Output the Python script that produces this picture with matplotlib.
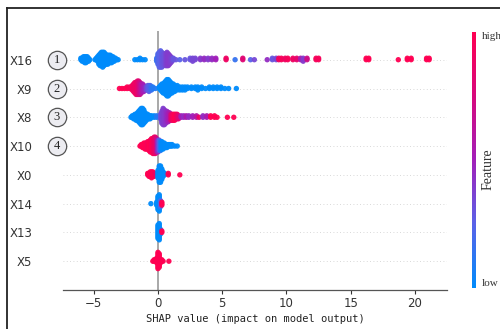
import numpy as np
import matplotlib
matplotlib.use("Agg")
import matplotlib.pyplot as plt
from matplotlib.colors import LinearSegmentedColormap
from matplotlib.lines import Line2D
import matplotlib.transforms as mtrans

# feature order (top -> bottom)
features = ["X16", "X9", "X8", "X10", "X0", "X14", "X13", "X5"]
ranks = ["1", "2", "3", "4"]

# each feature: shap value, number of samples at that value, feature value (0 low .. 1 high)
x16_x = [-6.0, -5.9, -5.8, -5.7, -5.6, -5.5, -5.4, -5.3,
         -4.9, -4.8, -4.7, -4.6, -4.5, -4.4, -4.3, -4.2, -4.1, -4.0, -3.9, -3.8, -3.7, -3.6, -3.5, -3.4, -3.3, -3.2, -3.1,
         -1.8, -1.6, -1.4, -1.2, -1.0,
         -0.1, 0.0, 0.1, 0.2, 0.3, 0.4, 0.5, 0.6, 0.7, 0.8, 0.9, 1.0, 1.1, 1.2, 1.4,
         1.7, 2.1, 2.5, 2.7, 2.9, 3.3, 3.6, 3.9, 4.2, 4.5, 5.3, 6.0, 6.6, 7.2, 7.5, 8.5, 8.9, 9.2,
         9.4, 9.6, 9.9, 10.1, 10.5, 10.8, 11.1, 11.3, 11.6, 12.3, 12.5, 16.2, 16.4, 18.7, 19.4, 19.7, 20.9, 21.1]
x16_n = [2, 3, 4, 5, 5, 4, 3, 1,
         1, 2, 4, 7, 9, 10, 11, 10, 8, 7, 7, 6, 6, 5, 4, 3, 2, 1, 1,
         1, 1, 2, 1, 1,
         3, 8, 11, 12, 11, 9, 8, 9, 10, 9, 7, 5, 3, 2, 1,
         1, 1, 2, 3, 2, 2, 2, 2, 2, 2, 2, 1, 2, 1, 1, 1, 2, 2,
         2, 2, 2, 2, 2, 2, 2, 3, 2, 2, 2, 2, 2, 1, 2, 2, 2, 2]
x16_c = [0, 0, 0, 0, 0, 0, 0, 0,
         0, 0, 0, 0, 0, 0, 0, 0, 0, 0, 0, 0, 0, 0, 0, 0, 0, 0, 0,
         0, 0, 0, 0, 0,
         0.15, 0.2, 0.25, 0.25, 0.28, 0.3, 0.32, 0.35, 0.38, 0.4, 0.4, 0.38, 0.35, 0.3, 0.3,
         0.25, 0.3, 0.3, 0.35, 0.35, 0.4, 0.45, 0.4, 0.45, 0.5, 0.9, 0.15, 0.8, 0.25, 0.35, 0.45, 0.3, 0.35,
         0.9, 0.95, 0.9, 0.95, 0.9, 0.85, 0.55, 0.4, 0.7, 0.95, 0.95, 1, 1, 1, 1, 1, 1, 1]

x9_x = [-3.0, -2.8, -2.6, -2.4, -2.2,
        -2.0, -1.9, -1.8, -1.7, -1.6, -1.5, -1.4, -1.3, -1.2, -1.1, -1.0,
        -0.9, -0.8, -0.7, -0.6, -0.5, -0.4, -0.2,
        0.1, 0.2, 0.3, 0.4, 0.5, 0.6, 0.7, 0.8, 0.9, 1.0, 1.1, 1.2, 1.3, 1.5, 1.7, 1.9, 2.1,
        2.3, 2.6, 2.9, 3.1, 3.4, 3.7, 4.0, 4.3, 4.6, 4.9, 5.2, 5.5, 6.1]
x9_n = [1, 1, 1, 2, 2,
        4, 6, 8, 9, 10, 10, 9, 7, 6, 5, 3,
        3, 4, 5, 4, 3, 2, 1,
        2, 4, 6, 7, 8, 10, 12, 12, 10, 8, 7, 6, 5, 4, 3, 3, 3,
        2, 2, 2, 3, 2, 1, 2, 2, 2, 2, 1, 1, 1]
x9_c = [1, 1, 1, 1, 0.95,
        0.95, 0.9, 0.9, 0.9, 0.85, 0.8, 0.7, 0.6, 0.55, 0.5, 0.45,
        0.35, 0.3, 0.25, 0.2, 0.15, 0.1, 0.1,
        0, 0, 0, 0, 0, 0, 0, 0, 0, 0, 0, 0, 0, 0, 0, 0, 0,
        0, 0, 0, 0, 0, 0, 0, 0, 0, 0, 0, 0, 0]

x8_x = [-2.1, -2.0, -1.9, -1.8, -1.7, -1.6, -1.5, -1.4, -1.3, -1.2, -1.1, -1.0, -0.9, -0.8, -0.7, -0.6, -0.5, -0.3, -0.1,
        0.2, 0.3, 0.4, 0.5, 0.6, 0.7, 0.8, 0.9, 1.0, 1.1, 1.2, 1.3, 1.4, 1.5, 1.6, 1.8, 2.0, 2.2, 2.4,
        2.7, 3.0, 3.2, 3.5, 3.8, 4.1, 4.4, 4.6, 5.4, 5.9]
x8_n = [1, 2, 3, 4, 5, 6, 8, 10, 12, 12, 10, 7, 5, 4, 3, 3, 2, 2, 2,
        4, 9, 12, 11, 9, 8, 7, 6, 5, 5, 5, 5, 4, 4, 3, 2, 2, 2, 2,
        2, 2, 1, 2, 2, 2, 2, 1, 1, 1]
x8_c = [0, 0, 0, 0, 0, 0, 0, 0, 0, 0, 0, 0, 0, 0, 0, 0, 0, 0, 0.1,
        0.3, 0.35, 0.38, 0.4, 0.42, 0.45, 0.5, 0.55, 0.7, 0.9, 0.95, 1, 1, 0.9, 0.8, 0.5, 0.45, 0.55, 0.45,
        0.5, 0.6, 0.9, 0.45, 0.55, 1, 1, 1, 1, 1]

x10_x = [-1.4, -1.3, -1.2, -1.1, -1.0, -0.9, -0.8, -0.7, -0.6, -0.5, -0.4, -0.3, -0.2, -0.1,
         0.0, 0.1, 0.2, 0.3, 0.4, 0.5, 0.6, 0.7, 0.8, 0.9, 1.0, 1.1, 1.3, 1.5]
x10_n = [1, 2, 3, 4, 5, 5, 6, 7, 9, 10, 11, 12, 12, 10,
         9, 8, 7, 6, 5, 4, 3, 3, 2, 2, 2, 2, 1, 1]
x10_c = [1, 1, 1, 1, 1, 1, 0.95, 1, 1, 0.95, 1, 0.9, 0.85, 0.7,
         0.45, 0.25, 0.1, 0, 0, 0, 0, 0, 0, 0, 0, 0, 0, 0]

x0_x = [-0.8, -0.7, -0.6, -0.5, -0.4, -0.3, -0.2, 0.0, 0.1, 0.2, 0.3, 0.4, 0.5, 0.8, 1.7]
x0_n = [2, 3, 4, 5, 4, 3, 2, 6, 12, 12, 8, 4, 2, 2, 1]
x0_c = [1, 1, 1, 1, 1, 1, 0.9, 0, 0, 0, 0, 0, 0, 1, 1]

x14_x = [-0.55, -0.1, 0.0, 0.1, 0.2, 0.3]
x14_n = [1, 3, 10, 12, 5, 3]
x14_c = [0, 0, 0, 0, 0.2, 1]

x13_x = [0.0, 0.1, 0.2, 0.3]
x13_n = [10, 12, 4, 2]
x13_c = [0, 0, 0, 1]

x5_x = [-0.4, -0.3, -0.2, -0.1, 0.0, 0.1, 0.2, 0.3, 0.4, 0.85]
x5_n = [1, 2, 2, 4, 12, 10, 3, 2, 1, 1]
x5_c = [1, 1, 1, 1, 1, 1, 1, 1, 1, 1]

rows = [(x16_x, x16_n, x16_c), (x9_x, x9_n, x9_c), (x8_x, x8_n, x8_c), (x10_x, x10_n, x10_c),
        (x0_x, x0_n, x0_c), (x14_x, x14_n, x14_c), (x13_x, x13_n, x13_c), (x5_x, x5_n, x5_c)]

cmap = LinearSegmentedColormap.from_list(
    "shap_rb", ["#008bfb", "#5a62e8", "#a21fb9", "#d7087c", "#ff0052"])


def swarm(ns, row_height=0.4):
    # stack samples sharing a value up/down around the row, shap style
    offs = []
    for n in ns:
        layer = np.arange(n)
        offs.extend(np.ceil(layer / 2) * ((layer % 2) * 2 - 1))
    offs = np.array(offs, dtype=float)
    return offs * 0.9 * (row_height / np.max(offs + 1))


fig = plt.figure(figsize=(5.0, 3.29), dpi=100)
ax = fig.add_axes([0.126, 0.1185, 0.768, 0.7875])

nrow = len(features)
for i, (xs, ns, cs) in enumerate(rows):
    pos = nrow - 1 - i
    ax.axhline(y=pos, color="#cccccc", lw=0.6, dashes=(1, 3), zorder=-1)
    vals = np.repeat(xs, ns)
    cols = np.repeat(cs, ns)
    ax.scatter(vals, pos + swarm(ns), c=cols, cmap=cmap, vmin=0, vmax=1,
               s=15, linewidth=0, alpha=0.95, zorder=3)

ax.axvline(x=0, color="#999999", lw=1.2, zorder=-1)

ax.set_xlim(-7.39, 22.49)
ax.set_ylim(-1, nrow)
ax.set_yticks(range(nrow))
ax.set_yticklabels(features[::-1], fontsize=8.5, color="#333333")
ax.tick_params(axis="y", length=0, pad=22)
ax.set_xticks([-5, 0, 5, 10, 15, 20])
ax.set_xticklabels(["\u22125", "0", "5", "10", "15", "20"])
ax.tick_params(axis="x", labelsize=8.5, colors="#333333", length=3, width=0.8, pad=2)
for s in ["top", "right", "left"]:
    ax.spines[s].set_visible(False)
ax.spines["bottom"].set_color("#555555")
ax.spines["bottom"].set_linewidth(0.9)
ax.set_xlabel("SHAP value (impact on model output)", family="DejaVu Sans Mono",
              fontsize=7.5, color="#222222", labelpad=3)

# circled rank numbers left of the top four features
tr = mtrans.blended_transform_factory(fig.transFigure, ax.transData)
for i, r in enumerate(ranks):
    pos = nrow - 1 - i
    ax.scatter([57 / 500], [pos], s=175, marker="o", facecolor="#ececf1",
               edgecolor="#555555", linewidth=0.9, transform=tr, clip_on=False, zorder=5)
    ax.text(57 / 500, pos, r, transform=tr, ha="center", va="center",
            family="Liberation Serif", fontsize=9, color="#222222", zorder=6)

# colour bar
cax = fig.add_axes([472 / 500, 41 / 329, 3.5 / 500, 256 / 329])
sm = plt.cm.ScalarMappable(cmap=cmap, norm=plt.Normalize(0, 1))
cb = fig.colorbar(sm, cax=cax)
cb.outline.set_visible(False)
cb.set_ticks([])
cax.text(1 + 6 / 3.5, 1.0, "high", transform=cax.transAxes, ha="left", va="top",
         family="Liberation Serif", fontsize=8, color="#333333")
cax.text(1 + 6 / 3.5, 0.0, "low", transform=cax.transAxes, ha="left", va="bottom",
         family="Liberation Serif", fontsize=8, color="#333333")
fig.text(488 / 500, 160 / 329, "Feature", rotation=90, ha="center", va="center",
         family="Liberation Serif", fontsize=10, color="#333333")

# frame around the figure (cut off at the right and bottom)
fig.add_artist(Line2D([7 / 500, 1.0], [1 - 8 / 329, 1 - 8 / 329], transform=fig.transFigure,
                      color="#222222", lw=1.3))
fig.add_artist(Line2D([7 / 500, 7 / 500], [0.0, 1 - 8 / 329], transform=fig.transFigure,
                      color="#222222", lw=1.3))

fig.savefig("out.png", dpi=100)
